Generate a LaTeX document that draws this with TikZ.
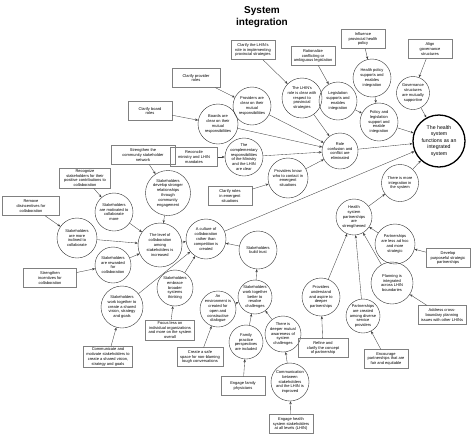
\documentclass[tikz,border=0pt]{standalone}
\usepackage{fontspec}
\setmainfont{Liberation Sans}
\usetikzlibrary{shapes,arrows,positioning,calc,arrows.meta}

\begin{document}
\begin{tikzpicture}[x=1pt, y=-1pt, >={Stealth[length=3pt, width=2.4pt]},
    outcome/.style={circle, draw=black!80, align=center, inner sep=-2pt, font=\fontsize{4}{4.8}\selectfont},
    action/.style={rectangle, draw=black!50, align=center, inner xsep=3pt, inner ysep=1.5pt, minimum width=44pt, minimum height=19pt, font=\fontsize{4}{4.8}\selectfont},
    link/.style={->, draw=black!75, line width=0.35pt}]
    \useasboundingbox (0,0) rectangle (474,437);

    % Title
    \node[font=\fontsize{10}{12}\selectfont\bfseries, align=center] (title) at (262,17) {System\\integration};

    % Goal and governance
    \node[outcome, draw=black, line width=1.3pt, minimum size=52pt, font=\fontsize{5.2}{6.5}\selectfont] (goal) at (439,141) {The health\\system\\functions as an\\integrated\\system};
    \node[outcome, minimum size=38pt] (policy) at (372,78) {Health policy\\supports and\\enables\\integration};
    \node[outcome, minimum size=33pt] (gov) at (413,93) {Governance\\structures\\are mutually\\supportive};
    \node[outcome, minimum size=38pt] (legis) at (338,101) {Legislation\\supports and\\enables\\integration};
    \node[outcome, minimum size=38pt] (polleg) at (379,122) {Policy and\\legislation\\support and\\enable\\integration};
    \node[outcome, minimum size=40pt] (lhinrole) at (302,98) {The LHIN's\\role is clear with\\respect to\\provincial\\strategies};
    \node[outcome, minimum size=38pt] (provclear) at (252,106) {Providers are\\clear on their\\mutual\\responsibilities};
    \node[outcome, minimum size=40pt] (boards) at (218,124) {Boards are\\clear on their\\mutual\\responsibilities};
    \node[outcome, minimum size=36pt] (confusion) at (340,151) {Role\\confusion and\\conflict are\\eliminated};
    \node[outcome, minimum size=38pt] (complement) at (244,157) {The\\complementary\\responsibilities\\of the Ministry\\and the LHIN\\are clear};
    \node[outcome, minimum size=40pt] (contact) at (288,178) {Providers know\\who to contact in\\emergent\\situations};

    \node[action] (clarifylhin) at (253,50) {Clarify the LHIN's\\role in implementing\\provincial strategies};
    \node[action] (rationalize) at (313,56) {Rationalize\\conflicting or\\ambiguous legislation};
    \node[action] (influence) at (363,39) {Influence\\provincial health\\policy};
    \node[action] (align) at (430,49) {Align\\governance\\structures};
    \node[action, minimum width=48pt] (clarifyprov) at (196,78) {Clarify provider\\roles};
    \node[action] (clarifyboard) at (150,111) {Clarify board\\roles};
    \node[action, minimum width=47pt] (reconcile) at (194,157) {Reconcile\\ministry and LHIN\\mandates};
    \node[action] (clarifyemerg) at (230,196) {Clarify roles\\in emergent\\situations};

    \draw[link] (clarifylhin) -- (lhinrole);
    \draw[link] (rationalize) -- (legis);
    \draw[link] (influence) -- (policy);
    \draw[link] (align) -- (gov);
    \draw[link] (clarifyprov) -- (provclear);
    \draw[link] (clarifyboard) -- (boards);
    \draw[link] (reconcile) -- (complement);
    \draw[link] (clarifyemerg) -- (contact);
    \draw[link] (policy) -- (polleg);
    \draw[link] (legis) -- (polleg);
    \draw[link] (polleg) -- (goal);
    \draw[link] (gov) -- (goal);
    \draw[link] (confusion) -- (goal);
    \draw[link] (lhinrole) -- (confusion);
    \draw[link] (provclear) -- (confusion);
    \draw[link] (boards) -- (confusion);
    \draw[link] (complement) -- (confusion);
    \draw[link] (contact) -- (confusion);

    % Collaboration
    \node[outcome, minimum size=45pt] (relations) at (168,193) {Stakeholders\\develop stronger\\relationships\\through\\community\\engagement};
    \node[outcome, minimum size=38pt] (motivated) at (114,212) {Stakeholders\\are motivated to\\collaborate\\more};
    \node[outcome, minimum size=40pt] (inclined) at (77,238) {Stakeholders\\are more\\inclined to\\collaborate};
    \node[outcome, minimum size=36pt] (rewarded) at (113,265) {Stakeholders\\are rewarded\\for\\collaboration};
    \node[outcome, minimum size=44pt] (level) at (160,245) {The level of\\collaboration\\among\\stakeholders is\\increased};
    \node[outcome, minimum size=40pt] (culture) at (206,239) {A culture of\\collaboration\\rather than\\competition is\\created};
    \node[outcome, minimum size=42pt] (shared) at (122,307) {Stakeholders\\work together to\\create a shared\\vision, strategy\\and goals};
    \node[outcome, minimum size=36pt] (systhink) at (175,288) {Stakeholders\\embrace\\broader\\systems\\thinking};
    \node[outcome, minimum size=38pt] (trust) at (258,250) {Stakeholders\\build trust};
    \node[outcome, minimum size=36pt] (dialogue) at (218,309) {An\\environment is\\created for\\open and\\constructive\\dialogue};
    \node[outcome, minimum size=34pt] (resolve) at (255,297) {Stakeholders\\work together\\better to\\resolve\\challenges};
    \node[outcome, minimum size=34pt] (family) at (246,342) {Family\\practice\\perspectives\\are included};
    \node[outcome, minimum size=36pt] (awareness) at (283,334) {There is\\deeper mutual\\awareness of\\system\\challenges};
    \node[outcome, minimum size=38pt] (comm) at (290,382) {Communication\\between\\stakeholders\\and the LHIN is\\improved};

    \node[action, minimum width=64pt] (strengthennet) at (143,155) {Strengthen the\\community stakeholder\\network};
    \node[action, minimum width=51pt] (recognize) at (85,178) {Recognize\\stakeholders for their\\positive contributions to\\collaboration};
    \node[action, minimum width=57pt] (remove) at (31,206) {Remove\\disincentives for\\collaboration};
    \node[action, minimum width=53pt] (incentives) at (50,278) {Strengthen\\incentives for\\collaboration};
    \node[action] (focus) at (170,330) {Focus less on\\individual organizations\\and more on the system\\overall};
    \node[action] (communicate) at (108,357) {Communicate and\\motivate stakeholders to\\create a shared vision,\\strategy and goals};
    \node[action] (safespace) at (200,357) {Create a safe\\space for non-blaming\\tough conversations};
    \node[action] (engagefam) at (243,386) {Engage family\\physicians};
    \node[action] (engagehealth) at (291,424) {Engage health\\system stakeholders\\at all levels (LHIN)};

    \draw[link] (strengthennet) -- (relations);
    \draw[link] (recognize) -- (motivated);
    \draw[link] (remove) -- (inclined);
    \draw[link] (incentives) -- (rewarded);
    \draw[link] (focus) -- (systhink);
    \draw[link] (communicate) -- (shared);
    \draw[link] (safespace) -- (dialogue);
    \draw[link] (engagefam) -- (family);
    \draw[link] (engagehealth) -- (comm);
    \draw[link] (relations) -- (level);
    \draw[link] (motivated) -- (level);
    \draw[link] (inclined) -- (level);
    \draw[link] (rewarded) -- (level);
    \draw[link] (level) -- (culture);
    \draw[link] (shared) -- (culture);
    \draw[link] (systhink) -- (culture);
    \draw[link] (trust) -- (culture);
    \draw[link] (resolve) -- (trust);
    \draw[link] (dialogue) -- (resolve);
    \draw[link] (family) -- (resolve);
    \draw[link] (awareness) -- (resolve);
    \draw[link] (comm) -- (awareness);
    \draw[link] (culture) -- (goal);

    % Partnerships
    \node[outcome, minimum size=37pt] (moreint) at (400,183) {There is more\\integration in\\the system};
    \node[outcome, minimum size=36pt] (partner) at (354,217) {Health\\system\\partnerships\\are\\strengthened};
    \node[outcome, minimum size=40pt] (adhoc) at (395,244) {Partnerships\\are less ad hoc\\and more\\strategic};
    \node[outcome, minimum size=42pt] (planning) at (392,283) {Planning is\\integrated\\across LHIN\\boundaries};
    \node[outcome, minimum size=38pt] (aspire) at (321,297) {Providers\\understand\\and aspire to\\deeper\\partnerships};
    \node[outcome, minimum size=34pt] (diverse) at (363,316) {Partnerships\\are created\\among diverse\\service\\providers};

    \node[action] (develop) at (448,258) {Develop\\purposeful strategic\\partnerships};
    \node[action] (address) at (442,315) {Address cross-\\boundary planning\\issues with other LHINs};
    \node[action, minimum width=50pt] (refine) at (323,348) {Refine and\\clarify the concept\\of partnership};
    \node[action] (encourage) at (386,359) {Encourage\\partnerships that are\\fair and equitable};

    \draw[link] (develop) -- (adhoc);
    \draw[link] (address) -- (planning);
    \draw[link] (refine) -- (aspire);
    \draw[link] (encourage) -- (diverse);
    \draw[link] (adhoc) -- (partner);
    \draw[link] (planning) -- (partner);
    \draw[link] (aspire) -- (partner);
    \draw[link] (diverse) -- (partner);
    \draw[link] (partner) -- (moreint);
    \draw[link] (moreint) -- (goal);
\end{tikzpicture}
\end{document}
